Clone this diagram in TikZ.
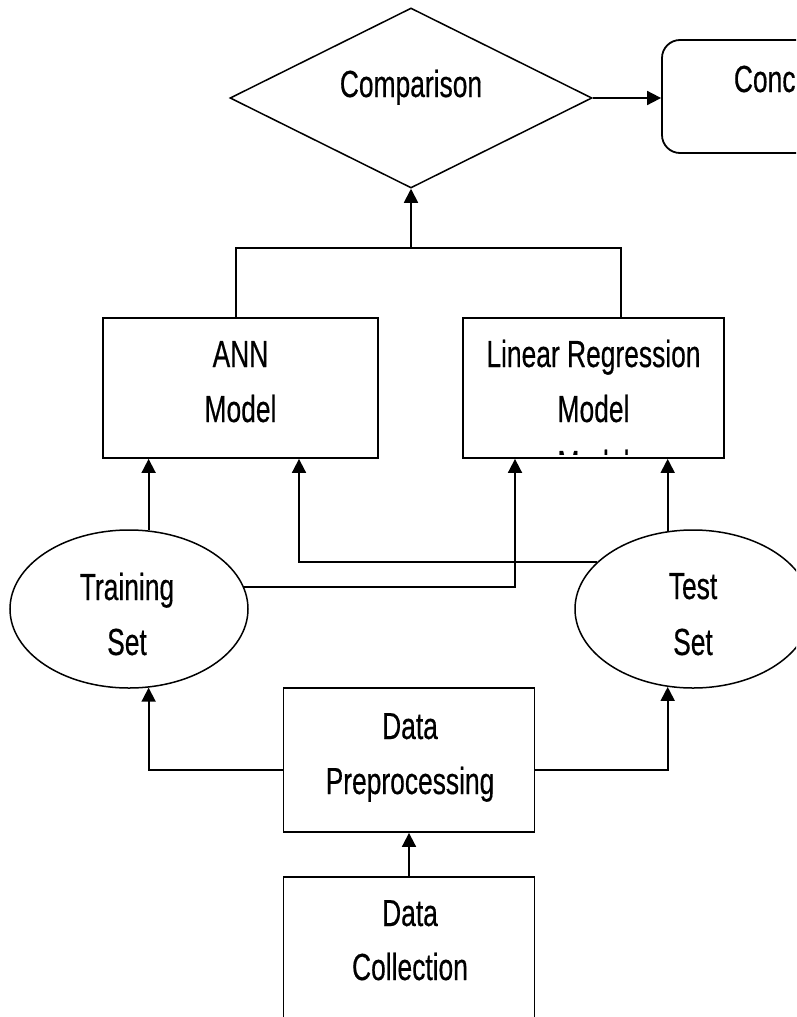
\documentclass[tikz,border=0pt]{standalone}
\usepackage{fontspec}
\setmainfont[FakeStretch=0.7,FakeBold=0.4]{Liberation Sans}
\usetikzlibrary{shapes.geometric,arrows.meta,calc}
\begin{document}
\begin{tikzpicture}[x=1pt,y=-1pt,line width=1.8pt,
  box/.style={draw, rectangle, inner sep=0pt},
  oval/.style={draw, ellipse, inner sep=0pt, line width=1.5pt},
  lbl/.style={anchor=base, inner sep=0pt, font=\fontsize{37.7}{55}\selectfont},
  arr/.style={-{Triangle[length=14pt,width=14pt]}},
]
\useasboundingbox (0,0) rectangle (796,1017);
\clip (0,0) rectangle (796,1017);

% shapes
\node[draw, diamond, shape aspect=2, inner sep=0pt, line width=1.5pt, minimum width=362pt, minimum height=180pt] (cmp) at (411,98) {};
\node[box, rounded corners=18pt, minimum width=272pt, minimum height=113pt] (concl) at (798,96.5) {};
\node[box, minimum width=275pt, minimum height=140pt] (ann) at (240.5,388) {};
\node[box, minimum width=261pt, minimum height=140pt] (lr) at (593.5,388) {};
\node[oval, minimum width=238pt, minimum height=158pt] (train) at (129,609) {};
\node[oval, minimum width=236pt, minimum height=158pt] (test) at (693,609) {};
\node[box, minimum width=251pt, minimum height=144pt] (pre) at (409,760) {};
\node[box, minimum width=251pt, minimum height=200pt] (col) at (409,977) {};

% labels
\node[lbl] (tcmp) at (411,97) {Comparison};
\node[lbl, anchor=base west] (tconcl) at (733,92) {Conclusion};
\node[lbl] (tann1) at (240.5,367) {ANN};
\node[lbl] (tann2) at (240.5,422) {Model};
\node[lbl] (tlr1) at (593.5,367) {Linear Regression};
\node[lbl] (tlr2) at (593.5,422) {Model};
\begin{scope}
  \clip (464,440) rectangle (723,454);
  \node[lbl] (tlr3) at (593.5,477) {Model};
\end{scope}
\node[lbl] (ttr1) at (127,600) {Training};
\node[lbl] (ttr2) at (127,655) {Set};
\node[lbl] (tte1) at (693,599) {Test};
\node[lbl] (tte2) at (693,655) {Set};
\node[lbl] (tpre1) at (410,739) {Data};
\node[lbl] (tpre2) at (410,794) {Preprocessing};
\node[lbl] (tcol1) at (410,926) {Data};
\node[lbl] (tcol2) at (410,980) {Collection};

% connectors
\coordinate (jl) at (236,248);
\coordinate (jr) at (621,248);
\draw[arr] (cmp.east) -- (cmp.east -| concl.west);
\draw (ann.north -| jl) -- (jl) -- (jr) -- (lr.north -| jr);
\draw[arr] (jl -| cmp.south) -- (cmp.south);
\draw[arr] (train.76) -- (train.76 |- ann.south);
\draw[arr] (test.154) -| ([xshift=58.5pt]ann.south);
\draw[arr] (train.11) -| ([xshift=-78.5pt]lr.south);
\draw[arr] (test.108) -- (test.108 |- lr.south);
\draw[arr] ([yshift=-10pt]pre.west) -| (train.-76);
\draw[arr] ([yshift=-10pt]pre.east) -| (test.-108);
\draw[arr] (col.north) -- (pre.south);
\end{tikzpicture}
\end{document}
